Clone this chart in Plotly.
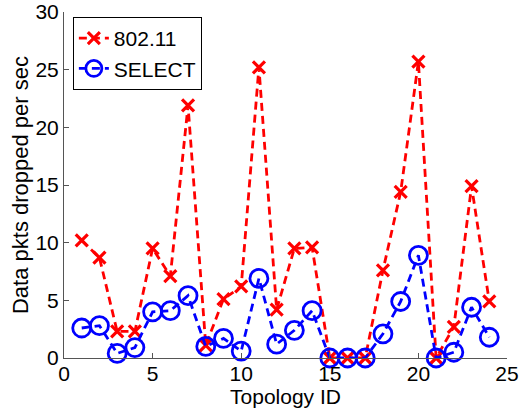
import plotly.graph_objects as go

topology_ids = list(range(1, 25))
drops_80211 = [10.2, 8.7, 2.3, 2.3, 9.5, 7.1, 21.9, 1.1, 5.1, 6.2, 25.2, 4.2,
               9.5, 9.6, 0.0, 0.0, 0.0, 7.6, 14.4, 25.7, 0.0, 2.7, 14.9, 4.9]
drops_select = [2.6, 2.8, 0.4, 0.9, 4.0, 4.1, 5.4, 1.0, 1.7, 0.6, 6.9, 1.2,
                2.4, 4.1, 0.0, 0.0, 0.0, 2.1, 4.9, 8.9, 0.0, 0.5, 4.4, 1.8]
x_ticks = [0, 5, 10, 15, 20, 25]
y_ticks = [0, 5, 10, 15, 20, 25, 30]

font_family = "Liberation Sans, Arial, sans-serif"

fig = go.Figure()
fig.add_trace(go.Scatter(
    x=topology_ids, y=drops_80211, name="802.11",
    mode="lines+markers", cliponaxis=False,
    line=dict(color="#ff0000", width=2.8, dash="8px,5px"),
    marker=dict(symbol="x-thin", size=12, line=dict(color="#ff0000", width=3.2)),
))
fig.add_trace(go.Scatter(
    x=topology_ids, y=drops_select, name="SELECT",
    mode="lines+markers", cliponaxis=False,
    line=dict(color="#0000ff", width=2.8, dash="8px,5px"),
    marker=dict(symbol="circle-open", size=18, line=dict(color="#0000ff", width=2.8)),
))

axis_common = dict(
    showgrid=False, zeroline=False, showline=True, linecolor="#555555", linewidth=1,
    ticks="inside", ticklen=5, tickcolor="#555555", mirror=False, automargin=False,
    ticklabeloverflow="allow",
    tickfont=dict(family=font_family, size=21, color="black"),
)
fig.update_xaxes(range=[0, 25], tickvals=x_ticks, ticklabelstandoff=-3,
                 title=dict(text="Topology ID", font=dict(family=font_family, size=21, color="black"), standoff=2),
                 **axis_common)
fig.update_yaxes(range=[0, 30], tickvals=y_ticks,
                 title=dict(text="Data pkts dropped per sec", font=dict(family=font_family, size=22, color="black"), standoff=0),
                 **axis_common)

fig.update_layout(
    width=519, height=412,
    margin=dict(l=64, r=12, t=12, b=54),
    plot_bgcolor="white", paper_bgcolor="white",
    font=dict(family=font_family, size=21, color="black"),
    legend=dict(x=0.02, y=0.9855, xanchor="left", yanchor="top",
                bordercolor="black", borderwidth=1, bgcolor="white",
                font=dict(family=font_family, size=21), tracegroupgap=0),
)

fig.write_html("out.html")
